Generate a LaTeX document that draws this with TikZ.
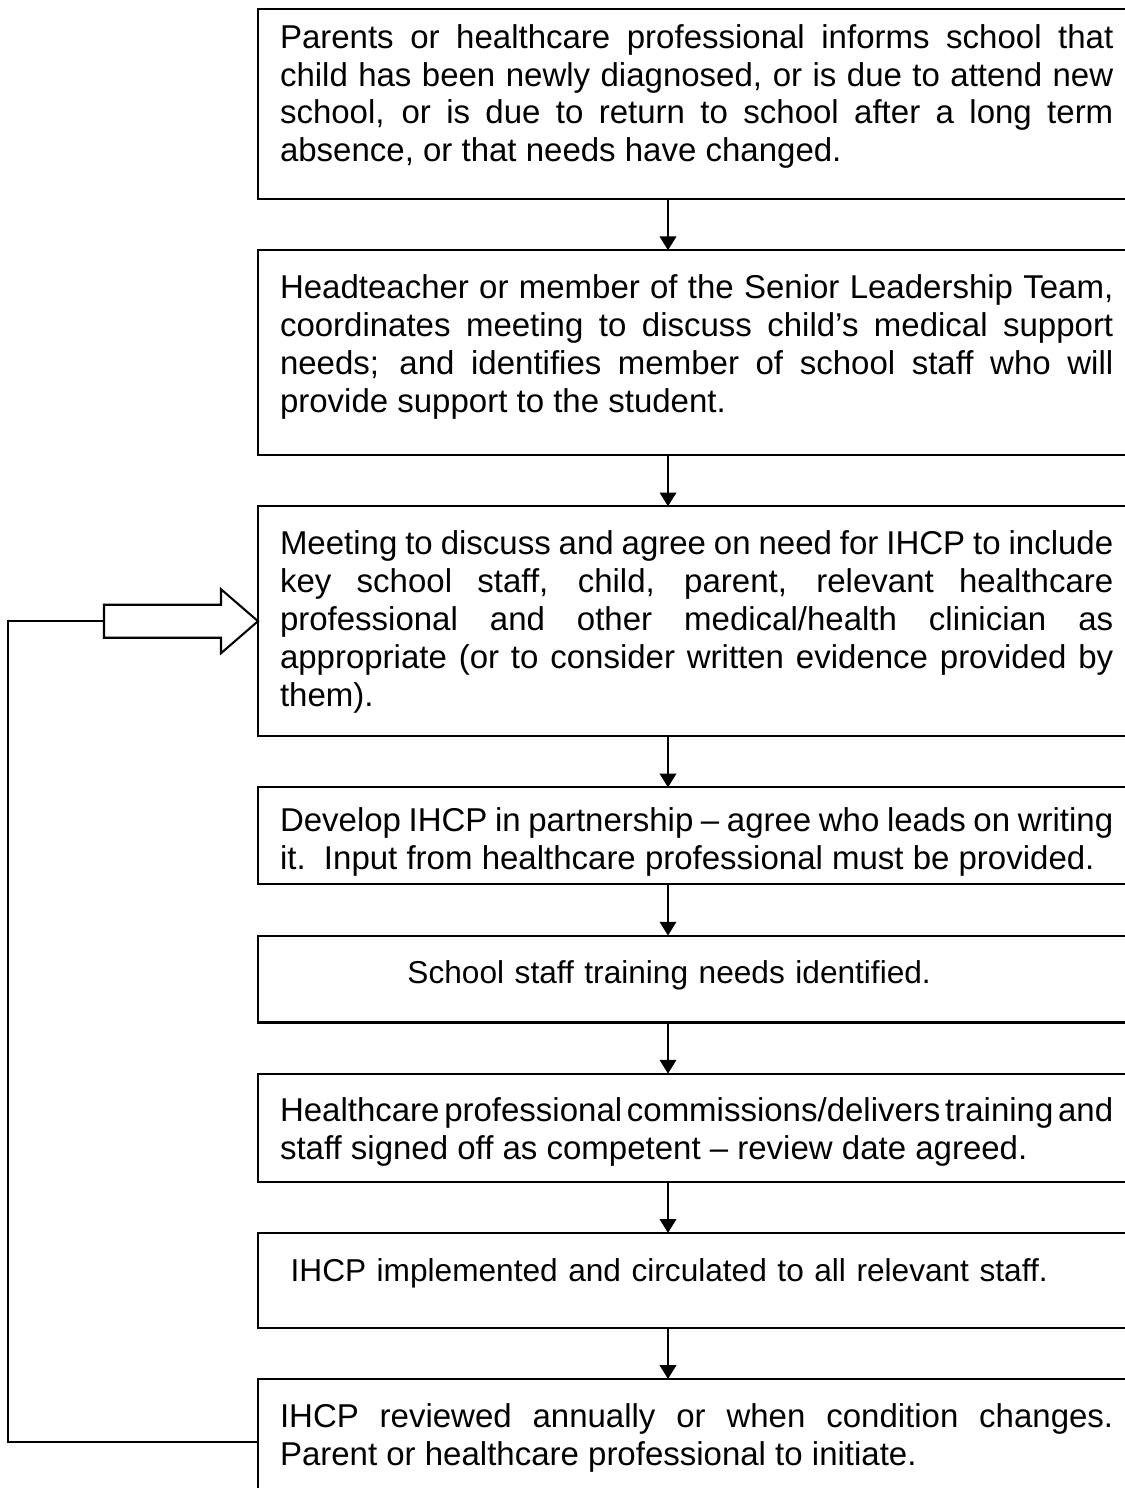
\documentclass[tikz,border=0pt]{standalone}
\usepackage{fontspec}
\setmainfont[WordSpace={1,1,1.6}]{Liberation Sans}
\usepackage{tikz}
\usetikzlibrary{positioning,arrows.meta}
\tolerance=10000
\hbadness=10000
\hyphenpenalty=10000
\newcommand{\midline}[1]{\makebox[283pt]{#1}}

\begin{document}
\begin{tikzpicture}[x=0.3636pt, y=-0.3636pt,
	node distance=18.6pt,
	every node/.style={font=\fontsize{12}{13.8}\selectfont},
	stepbox/.style={draw, line width=0.75pt, text width=303pt, inner xsep=8pt,
		inner ysep=0pt, outer sep=0pt, align=justify, text height=17.5pt},
	midbox/.style={stepbox, align=left, font=\fontsize{11.5}{13.2}\selectfont},
	flow/.style={line width=0.75pt, -{Triangle[length=5pt,width=6pt]}}]
\useasboundingbox (0,0) rectangle (1125,1488);
\clip (0,0) rectangle (1125,1488);

\node[stepbox, anchor=north west, text height=14.2pt, text depth=54.9pt] (b1) at (258,9)
	{Parents or healthcare professional informs school that\linebreak
	child has been newly diagnosed, or is due to attend new\linebreak
	school, or is due to return to school after a long term\linebreak
	absence, or that needs have changed.};
\node[stepbox, below=of b1, text depth=57pt] (b2)
	{Headteacher or member of the Senior Leadership Team,\linebreak
	coordinates meeting to discuss child’s medical support\linebreak
	needs; and identifies member of school staff who will\linebreak
	provide support to the student.};
\node[stepbox, below=of b2, text depth=66.1pt] (b3)
	{Meeting to discuss and agree on need for IHCP to include\linebreak
	key school staff, child, parent, relevant healthcare\linebreak
	professional and other medical/health clinician as\linebreak
	appropriate (or to consider written evidence provided by\linebreak
	them).};
\node[stepbox, below=of b3, text height=16pt, text depth=19.3pt] (b4)
	{Develop IHCP in partnership -- agree who leads on writing\linebreak
	it.\ \ Input from healthcare professional must be provided.};
\node[midbox, below=of b4, text depth=14.1pt] (b5)
	{\midline{School staff training needs identified.}};
\node[stepbox, below=of b5, text depth=21.8pt] (b6)
	{Healthcare professional commissions/delivers training and\linebreak
	staff signed off as competent -- review date agreed.};
\node[midbox, below=of b6, text depth=17pt] (b7)
	{\midline{IHCP implemented and circulated to all relevant staff.}};
\node[stepbox, below=of b7, text depth=28.3pt] (b8)
	{IHCP reviewed annually or when condition changes.\linebreak
	Parent or healthcare professional to initiate.};

% down arrows between the steps
\coordinate (ax) at (668,0);
\draw[flow] (b1.south -| ax) -- (b2.north -| ax);
\draw[flow] (b2.south -| ax) -- (b3.north -| ax);
\draw[flow] (b3.south -| ax) -- (b4.north -| ax);
\draw[flow] (b4.south -| ax) -- (b5.north -| ax);
\draw[flow] (b5.south -| ax) -- (b6.north -| ax);
\draw[flow] (b6.south -| ax) -- (b7.north -| ax);
\draw[flow] (b7.south -| ax) -- (b8.north -| ax);

% hollow arrow into the meeting step
\begin{scope}[shift={(b3.west)}]
	\draw[line width=0.75pt, fill=white] (0,0) -- (-37,32) -- (-37,16.5)
		-- (-154,16.5) -- (-154,-16.5) -- (-37,-16.5) -- (-37,-32) -- cycle;
	\coordinate (tail) at (-154,0);
\end{scope}

% review loops back to the meeting
\coordinate (back) at (8,0);
\draw[line width=0.75pt] (b8.west) -- (b8.west -| back) |- (tail);
\end{tikzpicture}
\end{document}
